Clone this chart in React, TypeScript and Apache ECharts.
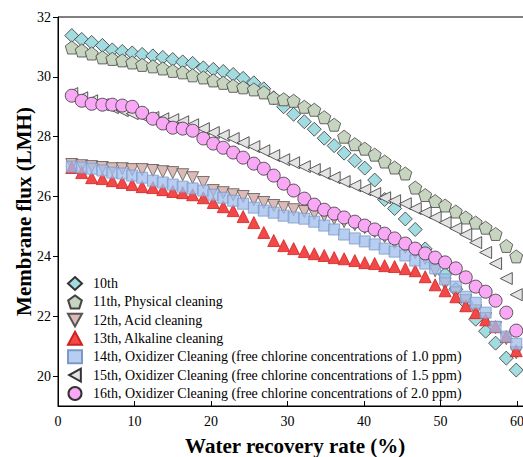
import React, { useEffect, useRef } from "react";
import * as echarts from "echarts";

const xs = [1.8, 3.1, 4.4, 5.8, 7.1, 8.4, 9.7, 11.0, 12.4, 13.7, 15.0, 16.3, 17.6, 19.0, 20.3, 21.6, 22.9, 24.2, 25.6, 26.9, 28.2, 29.5, 30.8, 32.2, 33.5, 34.8, 36.1, 37.4, 38.8, 40.1, 41.4, 42.7, 44.0, 45.4, 46.7, 48.0, 49.3, 50.6, 52.0, 53.3, 54.6, 55.9, 57.2, 58.6, 59.9];

const y10 = [31.38, 31.25, 31.15, 31.05, 30.9, 30.85, 30.8, 30.75, 30.7, 30.65, 30.58, 30.5, 30.45, 30.3, 30.25, 30.18, 30.08, 29.95, 29.8, 29.6, 29.3, 29.0, 28.75, 28.5, 28.25, 27.95, 27.7, 27.45, 27.2, 26.95, 26.55, 25.9, 25.6, 25.25, 24.9, 24.25, 23.8, 23.4, 22.9, 22.45, 21.9, 21.5, 21.1, 20.6, 20.2];
const y11 = [30.98, 30.88, 30.78, 30.65, 30.6, 30.55, 30.48, 30.4, 30.35, 30.28, 30.2, 30.15, 30.05, 29.98, 29.88, 29.8, 29.7, 29.65, 29.58, 29.48, 29.3, 29.25, 29.2, 29.0, 28.9, 28.65, 28.4, 28.0, 27.75, 27.6, 27.4, 27.17, 26.97, 26.77, 26.3, 26.05, 25.85, 25.7, 25.5, 25.3, 25.13, 24.96, 24.75, 24.35, 24.0];
const y12 = [27.07, 27.03, 27.0, 26.97, 26.93, 26.93, 26.9, 26.9, 26.87, 26.83, 26.8, 26.73, 26.63, 26.47, 26.2, 26.13, 26.06, 26.0, 25.9, 25.8, 25.7, 25.63, 25.56, 25.5, 25.43, 25.36, 25.26, 25.16, 25.06, 24.96, 24.83, 24.66, 24.46, 24.3, 24.13, 23.93, 23.52, 23.08, 22.78, 22.52, 22.18, 21.92, 21.62, 21.25, 20.78];
const y13 = [26.97, 26.8, 26.63, 26.6, 26.53, 26.47, 26.4, 26.33, 26.3, 26.23, 26.17, 26.13, 26.06, 25.96, 25.8, 25.66, 25.53, 25.33, 25.13, 24.8, 24.53, 24.36, 24.26, 24.16, 24.09, 24.03, 23.96, 23.92, 23.86, 23.79, 23.76, 23.69, 23.66, 23.59, 23.52, 23.32, 23.05, 22.85, 22.65, 22.35, 22.12, 21.88, 21.65, 21.32, 20.85];
const y14 = [27.0, 26.97, 26.93, 26.87, 26.8, 26.77, 26.7, 26.63, 26.53, 26.47, 26.4, 26.33, 26.27, 26.2, 26.06, 25.96, 25.86, 25.76, 25.63, 25.53, 25.46, 25.36, 25.3, 25.26, 25.16, 25.03, 24.9, 24.73, 24.6, 24.5, 24.4, 24.26, 24.16, 24.03, 23.86, 23.76, 23.6, 23.23, 22.99, 22.65, 22.45, 22.12, 21.65, 21.32, 21.08];
const y15 = [29.44, 29.3, 29.2, 29.07, 28.97, 28.87, 28.77, 28.7, 28.64, 28.6, 28.57, 28.5, 28.4, 28.27, 28.14, 28.04, 27.94, 27.8, 27.67, 27.53, 27.37, 27.23, 27.13, 27.0, 26.9, 26.77, 26.63, 26.5, 26.36, 26.23, 26.1, 25.96, 25.86, 25.76, 25.6, 25.46, 25.3, 25.13, 24.93, 24.73, 24.46, 24.13, 23.76, 23.26, 22.72];
const y16 = [29.37, 29.2, 29.1, 29.07, 29.07, 29.04, 29.0, 28.8, 28.6, 28.44, 28.3, 28.27, 28.2, 27.94, 27.77, 27.63, 27.47, 27.3, 27.1, 26.93, 26.7, 26.43, 26.2, 25.93, 25.73, 25.56, 25.43, 25.3, 25.16, 25.03, 24.9, 24.76, 24.6, 24.43, 24.26, 24.1, 23.96, 23.8, 23.6, 23.3, 22.99, 22.82, 22.52, 22.12, 21.52];

const seriesNames = [
  "10th",
  "11th, Physical cleaning",
  "12th, Acid cleaning",
  "13th, Alkaline cleaning",
  "14th, Oxidizer Cleaning (free chlorine concentrations of 1.0 ppm)",
  "15th, Oxidizer Cleaning (free chlorine concentrations of 1.5 ppm)",
  "16th, Oxidizer Cleaning (free chlorine concentrations of 2.0 ppm)",
];

const xTicks = [0, 10, 20, 30, 40, 50, 60];
const yTicks = [20, 22, 24, 26, 28, 30, 32];

const FONT = "Liberation Serif, Times New Roman, serif";

const PENTAGON = "path://M0,-1L0.951,-0.309L0.588,0.809L-0.588,0.809L-0.951,-0.309Z";
const DOWN_TRI = "path://M0,0L2,0L1,1.8Z";
const LEFT_TRI = "path://M1.8,0L1.8,2L0,1Z";

export default function App() {
  const ref = useRef<HTMLDivElement>(null);
  useEffect(() => {
    if (!ref.current) return;
    const chart = echarts.init(ref.current, null, { renderer: "svg" });
    const ys = [y10, y11, y12, y13, y14, y15, y16];
    const styles = [
      { symbol: "diamond", size: 14, color: "#a3dce0", border: "#333333" },
      { symbol: PENTAGON, size: 13, color: "#c7d5c0", border: "#444444" },
      { symbol: DOWN_TRI, size: 12, color: "#dcbab6", border: "#555555" },
      { symbol: "triangle", size: 12, color: "#f24848", border: "#d02020" },
      { symbol: "rect", size: 11, color: "rgba(160,190,236,0.75)", border: "#7d98c8" },
      { symbol: LEFT_TRI, size: 12, color: "#e3e3e3", border: "#333333" },
      { symbol: "circle", size: 13, color: "#f8a8f4", border: "#333333" },
    ];
    const series = seriesNames.map((name, i) => ({
      name,
      type: "scatter",
      symbol: styles[i].symbol,
      symbolSize: styles[i].size,
      data: xs.map((x, j) => [x, ys[i][j]]),
      itemStyle: {
        color: styles[i].color,
        borderColor: styles[i].border,
        borderWidth: 0.8,
        opacity: 1,
      },
      emphasis: { disabled: true },
    }));
    chart.setOption({
      animation: false,
      grid: {
        left: 58,
        top: 17,
        bottom: 51,
        right: -9.3,
        outerBoundsMode: "none",
        containLabel: false,
        show: true,
        borderColor: "#000",
        borderWidth: 1,
      },
      legend: {
        orient: "vertical",
        left: 67,
        top: 276,
        padding: 0,
        itemWidth: 14,
        itemHeight: 13,
        itemGap: 3.4,
        textStyle: {
          fontFamily: FONT,
          fontSize: 14,
          color: "#000",
          lineHeight: 14,
          padding: [0, 0, 0, 6],
        },
        data: seriesNames,
      },
      xAxis: {
        type: "value",
        min: 0,
        max: 62,
        name: "Water recovery rate (%)",
        nameLocation: "middle",
        nameGap: 29,
        nameMoveOverlap: false,
        nameTextStyle: { fontFamily: FONT, fontSize: 21, fontWeight: "bold", color: "#000" },
        axisLine: { show: true, lineStyle: { color: "#000", width: 1 } },
        axisTick: { show: true, inside: true, length: 5, customValues: xTicks, lineStyle: { color: "#000" } },
        axisLabel: { fontFamily: FONT, fontSize: 14, color: "#000", margin: 8, customValues: xTicks },
        splitLine: { show: false },
      },
      yAxis: {
        type: "value",
        min: 19,
        max: 32,
        name: "Membrane flux (LMH)",
        nameLocation: "middle",
        nameGap: 24,
        nameMoveOverlap: false,
        nameRotate: 90,
        nameTextStyle: { fontFamily: FONT, fontSize: 21, fontWeight: "bold", color: "#000" },
        axisLine: { show: true, lineStyle: { color: "#000", width: 1 } },
        axisTick: { show: true, inside: false, length: 5, customValues: yTicks, lineStyle: { color: "#000" } },
        axisLabel: { fontFamily: FONT, fontSize: 14, color: "#000", margin: 7, customValues: yTicks },
        splitLine: { show: false },
      },
      series,
    });
    return () => chart.dispose();
  }, []);
  return (
    <div
      ref={ref}
      style={{ position: "fixed", left: 0, top: 0, width: 523, height: 457, background: "#fff" }}
    />
  );
}
